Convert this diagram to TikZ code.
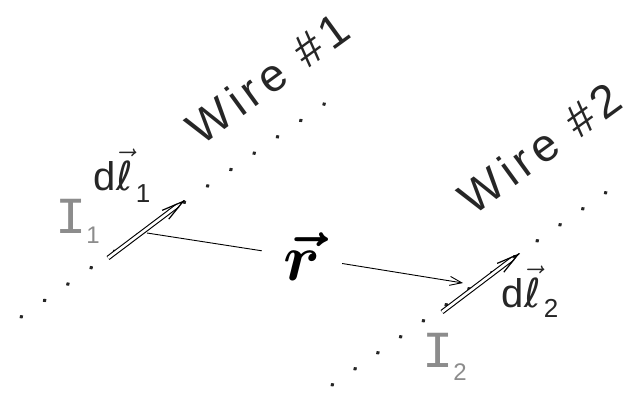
\RequirePackage{fix-cm}
\documentclass[tikz,border=0pt]{standalone}
\usepackage{amsmath}
\usepackage{bm}
\usepackage{fontspec}
\setmainfont{Liberation Sans}
\newfontfamily\monofont{Liberation Mono}
\newfontfamily\ellfont{DejaVu Sans}
\newfontfamily\wirefont[LetterSpace=12]{Liberation Sans}
\usetikzlibrary{arrows.meta,calc}
\begin{document}
\begin{tikzpicture}[x=1pt,y=-1pt,
  wire/.style={line width=3.6pt, line cap=round, color=black!85},
  dshaft/.style={double, double distance=2.6pt, line width=1.1pt},
  dhead/.style={line width=1.2pt, -{Straight Barb[length=22pt,width=11pt]}},
  rvec/.style={line width=0.9pt, -{Straight Barb[length=12pt,width=9pt]}},
  wlabel/.style={font=\wirefont\fontsize{46}{46}\selectfont, rotate=36, text=black!85, inner sep=0pt},
  ilabel/.style={text=black!45, inner sep=0pt},
  dlabel/.style={text=black!85, inner sep=0pt, font=\fontsize{40}{40}\selectfont}]
\useasboundingbox (0,0) rectangle (636,394);
% wires
\coordinate (w1a) at (21,317); \coordinate (w1b) at (347,88);
\coordinate (w2a) at (332,385); \coordinate (w2b) at (628,177);
\draw[wire, dash pattern=on 0.8pt off 27.66pt] (w1a) -- (w1b);
\draw[wire, dash pattern=on 0.8pt off 27.03pt] (w2a) -- (w2b);
% current elements
\coordinate (d1a) at (108,258); \coordinate (d1b) at (185,200);
\coordinate (d2a) at (442,312); \coordinate (d2b) at (520,253);
\draw[dshaft] (d1a) -- ($(d1b)!9pt!(d1a)$);
\draw[dhead] ($(d1b)!1pt!(d1a)$) -- (d1b);
\draw[dshaft] (d2a) -- ($(d2b)!9pt!(d2a)$);
\draw[dhead] ($(d2b)!1pt!(d2a)$) -- (d2b);
% separation vector
\coordinate (rs) at (147,233);
\coordinate (re) at (463,283);
\node[inner sep=0pt, minimum width=80pt, minimum height=60pt] (r) at (302,257)
  {\fontsize{66}{66}\selectfont$\bm{\vec{r}}$};
\draw[rvec] (rs) -- (r) -- (re);
% labels
\node[wlabel] (w1) at (268,78) {Wire\hspace{20pt}\#1};
\node[wlabel] (w2) at (540,148) {Wire\hspace{20pt}\#2};
\node[ilabel, anchor=base west] (i1) at (55,233)
  {{\monofont\fontsize{52}{52}\selectfont I}\raisebox{-10pt}{\fontsize{24}{24}\selectfont 1}};
\node[ilabel, anchor=base west] (i2) at (422,367)
  {{\monofont\fontsize{52}{52}\selectfont I}\raisebox{-13pt}{\fontsize{24}{24}\selectfont 2}};
\node[dlabel, anchor=base west] (l1) at (93,190)
  {d\kern1pt$\vec{\hbox{\ellfont ℓ}}$\kern3pt\raisebox{-12pt}{\fontsize{26}{26}\selectfont 1}};
\node[dlabel, anchor=base west] (l2) at (501,307)
  {d\kern1pt$\vec{\hbox{\ellfont ℓ}}$\kern3pt\raisebox{-10pt}{\fontsize{26}{26}\selectfont 2}};
\end{tikzpicture}
\end{document}
